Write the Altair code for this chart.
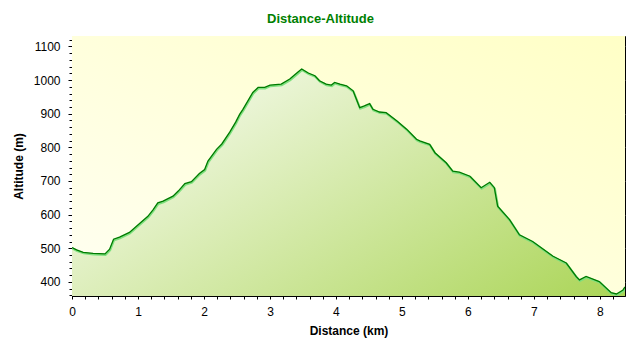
import altair as alt
import pandas as pd

distance_km = [0.00, 0.07, 0.17, 0.32, 0.50, 0.57, 0.63, 0.72, 0.87, 1.02,
               1.15, 1.23, 1.30, 1.38, 1.53, 1.61, 1.71, 1.81, 1.93, 2.01,
               2.06, 2.19, 2.27, 2.39, 2.48, 2.54, 2.59, 2.74, 2.82, 2.92,
               3.00, 3.17, 3.30, 3.42, 3.48, 3.58, 3.68, 3.75, 3.85, 3.93,
               3.98, 4.06, 4.16, 4.26, 4.31, 4.36, 4.43, 4.51, 4.56, 4.66,
               4.76, 4.92, 5.07, 5.22, 5.27, 5.42, 5.50, 5.67, 5.77, 5.87,
               6.03, 6.20, 6.33, 6.40, 6.45, 6.63, 6.78, 6.98, 7.29, 7.49,
               7.64, 7.69, 7.79, 7.99, 8.17, 8.25, 8.35, 8.38]
altitude_m = [502, 495, 488, 485, 483, 497, 527, 533, 547, 573,
              595, 615, 635, 640, 655, 670, 692, 698, 722, 734,
              759, 794, 810, 845, 875, 898, 913, 963, 978, 978,
              985, 988, 1003, 1023, 1033, 1021, 1013, 998, 988, 985,
              993, 988, 983, 968, 943, 918, 923, 930, 913, 905,
              903, 879, 854, 824, 819, 809, 784, 754, 729, 726,
              714, 680, 696, 680, 625, 585, 540, 520, 476, 456,
              416, 406, 416, 401, 368, 364, 376, 385]

x_domain = [0, 8.38]
y_domain = [358, 1131]
x_ticks = [round(i * 0.2, 1) for i in range(42)]
y_ticks = list(range(360, 1121, 20))
x_major = list(range(0, 9))
y_major = list(range(400, 1101, 100))

df = pd.DataFrame({"d": distance_km, "a": altitude_m})

FONT = "Liberation Sans"
xs = alt.Scale(domain=x_domain, nice=False, zero=False)
ys = alt.Scale(domain=y_domain, nice=False, zero=False)

bg = alt.Chart(df).mark_rect(
    color=alt.LinearGradient(
        gradient="linear", x1=0, y1=1, x2=1, y2=0,
        stops=[alt.GradientStop(color="#fffff2", offset=0),
               alt.GradientStop(color="#ffffc6", offset=1)]),
).encode(x=alt.value(0), x2=alt.value("width"), y=alt.value(0), y2=alt.value("height"))

area = alt.Chart(df).mark_area(
    color=alt.LinearGradient(
        gradient="linear", x1=0, y1=0, x2=1, y2=1,
        stops=[alt.GradientStop(color="#ffffff", offset=0),
               alt.GradientStop(color="#99cc33", offset=1)]),
    clip=True,
).encode(
    x=alt.X("d:Q", scale=xs, axis=alt.Axis(
        orient="bottom", title="Distance (km)", values=x_ticks,
        labelExpr="datum.value % 1 === 0 ? format(datum.value, 'd') : ''",
        tickSize=3, tickColor="black", domainColor="black",
        labelFont=FONT, labelFontSize=12, labelColor="black", labelPadding=7,
        labelOverlap=False, labelFlush=False,
        titleFont=FONT, titleFontSize=12, titleFontWeight="bold", titleColor="black",
        titlePadding=8,
        grid=True, gridColor="#bdbdbd", gridDash=[1, 3],
        gridOpacity={"condition": {"test": "datum.value % 1 === 0", "value": 1}, "value": 0})),
    y=alt.Y("a:Q", scale=ys, axis=alt.Axis(
        orient="left", title="Altitude (m)", values=y_ticks,
        labelExpr="datum.value % 100 === 0 ? datum.label : ''",
        format="d",
        tickSize={"condition": {"test": "datum.value % 100 === 0", "value": 4}, "value": 3},
        tickColor="black", domainColor="black",
        labelFont=FONT, labelFontSize=12, labelColor="black", labelPadding=8,
        labelOverlap=False,
        titleFont=FONT, titleFontSize=12, titleFontWeight="bold", titleColor="black",
        titlePadding=8,
        grid=True, gridColor="#bdbdbd", gridDash=[1, 3],
        gridOpacity={"condition": {"test": "datum.value % 100 === 0", "value": 1}, "value": 0})),
)

halo = alt.Chart(df).mark_line(color="#7ee07e", strokeWidth=2.2, yOffset=1, xOffset=0.5, clip=True).encode(
    x=alt.X("d:Q", scale=xs, axis=alt.Axis(
        orient="bottom", title="", values=x_major, labels=False, domain=False,
        offset=-4, tickSize=4, tickColor="black", grid=False)),
    y=alt.Y("a:Q", scale=ys, axis=alt.Axis(
        orient="left", title="", values=y_major, labels=False, domain=False,
        offset=-4, tickSize=4, tickColor="black", grid=False)),
)

line = alt.Chart(df).mark_line(color="#007a00", strokeWidth=1.3, clip=True).encode(
    x=alt.X("d:Q", scale=xs, axis=alt.Axis(
        orient="top", title="", values=x_ticks, labels=False, domain=False,
        offset=-3, tickSize=3, tickColor="black", grid=False)),
    y=alt.Y("a:Q", scale=ys, axis=alt.Axis(
        orient="right", title="", values=y_ticks, labels=False, domain=False,
        offset=-3, tickSize=3, tickColor="black", grid=False)),
)

chart = alt.layer(bg, area, halo, line).resolve_axis(
    x="independent", y="independent"
).properties(
    width=553, height=260,
    autosize=alt.AutoSizeParams(type="none"),
    padding={"left": 64, "top": 28, "right": 7, "bottom": 46},
    title=alt.TitleParams(
        text="Distance-Altitude", anchor="middle", color="#008000",
        font=FONT, fontSize=13, fontWeight="bold", baseline="alphabetic", offset=-2,
        dx=-28),
    background="white",
).configure_view(stroke="black", strokeWidth=1)

chart.save("out.html", embed_options={"renderer": "svg", "actions": False})
